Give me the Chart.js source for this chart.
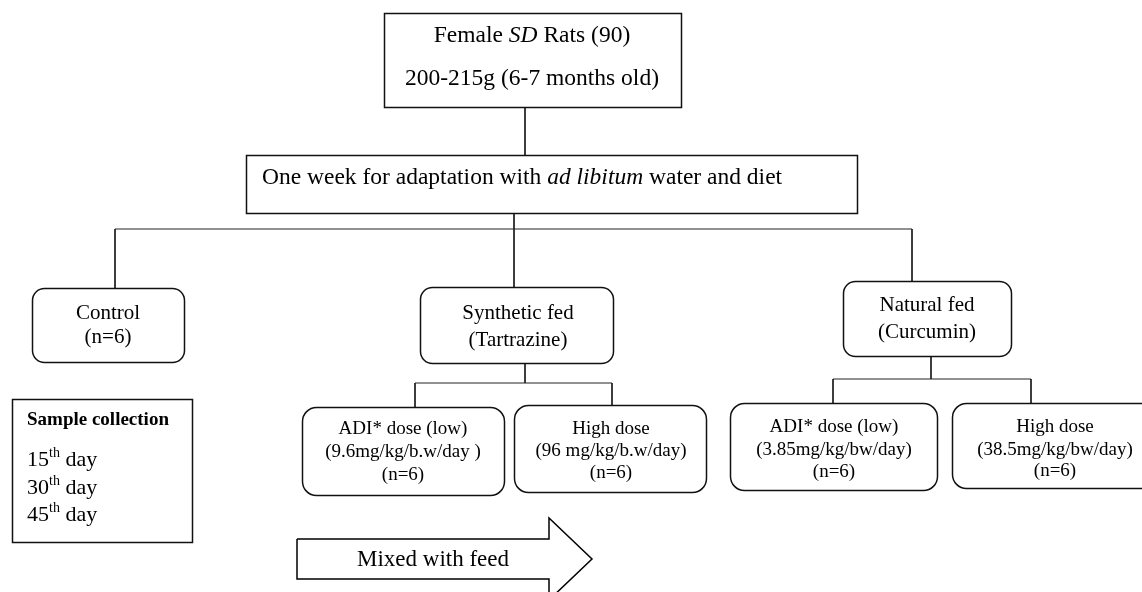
<!DOCTYPE html>
<html>
<head>
<meta charset="utf-8">
<script src="https://cdn.jsdelivr.net/npm/chart.js@4.4.1/dist/chart.umd.min.js"></script>
<style>
  body { margin: 0; background: #fff; }
  #flow { display: block; }
</style>
</head>
<body>
<canvas id="flow" width="1142" height="592"></canvas>
<script>
// text of each node ( _x_ = italic, ^x^ = superscript, *x* = bold )
const topText = ['Female _SD_ Rats (90)', '200-215g (6-7 months old)'];
const adaptText = ['One week for adaptation with _ad libitum_ water and diet'];
const groupText = [['Control', '(n=6)'], ['Synthetic fed', '(Tartrazine)'], ['Natural fed', '(Curcumin)']];
const doseText = [
  ['ADI* dose (low)', '(9.6mg/kg/b.w/day )', '(n=6)'],
  ['High dose', '(96 mg/kg/b.w/day)', '(n=6)'],
  ['ADI* dose (low)', '(3.85mg/kg/bw/day)', '(n=6)'],
  ['High dose', '(38.5mg/kg/bw/day)', '(n=6)']
];
const sampleText = ['*Sample collection*', '15^th^ day', '30^th^ day', '45^th^ day'];
const arrowText = 'Mixed with feed';

// layout of the boxes (in page units, y down)
const nodes = [
  { box: [384, 13, 681, 107], r: 0, lines: topText, tx: 532, ty: [36, 79], size: 23.5 },
  { box: [246, 155, 857, 213], r: 0, lines: adaptText, tx: 262, ty: [178], size: 23.5, align: 'left' },
  { box: [32, 288, 184, 362], r: 12, lines: groupText[0], tx: 108, ty: [313, 337], size: 21 },
  { box: [420, 287, 613, 363], r: 12, lines: groupText[1], tx: 518, ty: [313, 340], size: 21 },
  { box: [843, 281, 1011, 356], r: 12, lines: groupText[2], tx: 927, ty: [305, 332], size: 21 },
  { box: [302, 407, 504, 495], r: 14, lines: doseText[0], tx: 403, ty: [429, 452, 475], size: 19 },
  { box: [514, 405, 706, 492], r: 14, lines: doseText[1], tx: 611, ty: [429, 451, 473], size: 19 },
  { box: [730, 403, 937, 490], r: 14, lines: doseText[2], tx: 834, ty: [427, 450, 472], size: 19 },
  { box: [952, 403, 1160, 488], r: 14, lines: doseText[3], tx: 1055, ty: [427, 450, 471], size: 19 },
  { box: [12, 399, 192, 542], r: 0, lines: sampleText, tx: 27, ty: [420, 460, 488, 515], size: [19, 22, 22, 22], align: 'left' }
];

// connector segments
const connectors = [
  [[525, 107], [525, 155]],
  [[514, 213], [514, 287]],
  [[115, 229], [912, 229]],
  [[115, 229], [115, 288]],
  [[912, 229], [912, 281]],
  [[525, 363], [525, 383]],
  [[415, 383], [612, 383]],
  [[415, 383], [415, 407]],
  [[612, 383], [612, 405]],
  [[931, 356], [931, 379]],
  [[833, 379], [1031, 379]],
  [[833, 379], [833, 403]],
  [[1031, 379], [1031, 403]]
];

const arrowShape = [[297, 539], [549, 539], [549, 518], [592, 559], [549, 600], [549, 579], [297, 579], [297, 539]];

const FONT = '"Liberation Serif", "Times New Roman", serif';

const parseRuns = (str) => {
  const runs = [];
  let cur = '', it = false, sup = false, bold = false;
  const push = () => { if (cur) runs.push({ t: cur, it, sup, bold }); cur = ''; };
  for (const ch of str) {
    if (ch === '_') { push(); it = !it; }
    else if (ch === '^') { push(); sup = !sup; }
    else if (ch === '*' && str.startsWith('*')) { push(); bold = !bold; }
    else cur += ch;
  }
  push();
  return runs;
};

const runFont = (run, size) => {
  const s = run.sup ? Math.round(size * 0.62) : size;
  return (run.it ? 'italic ' : '') + (run.bold ? 'bold ' : '') + s + 'px ' + FONT;
};

const drawRich = (ctx, str, x, y, size, align) => {
  const runs = parseRuns(str);
  let total = 0;
  runs.forEach(run => { ctx.font = runFont(run, size); run.w = ctx.measureText(run.t).width; total += run.w; });
  let cx = align === 'left' ? x : x - total / 2;
  runs.forEach(run => {
    ctx.font = runFont(run, size);
    ctx.fillText(run.t, cx, run.sup ? y - size * 0.3 : y);
    cx += run.w;
  });
};

const roundBox = (ctx, x0, y0, x1, y1, r) => {
  ctx.beginPath();
  if (r > 0) ctx.roundRect(x0, y0, x1 - x0, y1 - y0, r);
  else ctx.rect(x0, y0, x1 - x0, y1 - y0);
};

const nodePlugin = {
  id: 'nodes',
  afterDatasetsDraw(chart) {
    const { ctx, scales: { x, y } } = chart;
    ctx.save();
    nodes.forEach(n => {
      const x0 = x.getPixelForValue(n.box[0]), x1 = x.getPixelForValue(n.box[2]);
      const y0 = y.getPixelForValue(n.box[1]), y1 = y.getPixelForValue(n.box[3]);
      roundBox(ctx, x0 + 0.5, y0 + 0.5, x1 + 0.5, y1 + 0.5, n.r);
      ctx.fillStyle = '#fff';
      ctx.fill();
      ctx.lineWidth = 1.5;
      ctx.strokeStyle = '#111';
      ctx.stroke();
      ctx.fillStyle = '#000';
      ctx.textBaseline = 'middle';
      ctx.textAlign = 'left';
      n.lines.forEach((line, i) => {
        const size = Array.isArray(n.size) ? n.size[i] : n.size;
        drawRich(ctx, line, x.getPixelForValue(n.tx), y.getPixelForValue(n.ty[i]), size, n.align);
      });
    });
    // arrow label
    ctx.textBaseline = 'middle';
    drawRich(ctx, arrowText, x.getPixelForValue(433), y.getPixelForValue(560), 23, 'center');
    ctx.restore();
  }
};

const datasets = connectors.map(seg => ({
  data: seg.map(p => ({ x: p[0], y: p[1] })),
  showLine: true,
  borderColor: '#222',
  borderWidth: 1,
  pointRadius: 0,
  clip: false
}));

datasets.push({
  data: arrowShape.map(p => ({ x: p[0], y: p[1] })),
  showLine: true,
  borderColor: '#000',
  borderWidth: 1.5,
  borderJoinStyle: 'miter',
  pointRadius: 0,
  fill: false,
  tension: 0
});

new Chart(document.getElementById('flow').getContext('2d'), {
  type: 'scatter',
  data: { datasets },
  options: {
    responsive: false,
    animation: false,
    events: [],
    layout: { padding: 0 },
    plugins: { legend: { display: false }, tooltip: { enabled: false } },
    scales: {
      x: { type: 'linear', min: 0, max: 1142, display: false },
      y: { type: 'linear', min: 0, max: 592, reverse: true, display: false }
    }
  },
  plugins: [nodePlugin]
});
</script>
</body>
</html>
